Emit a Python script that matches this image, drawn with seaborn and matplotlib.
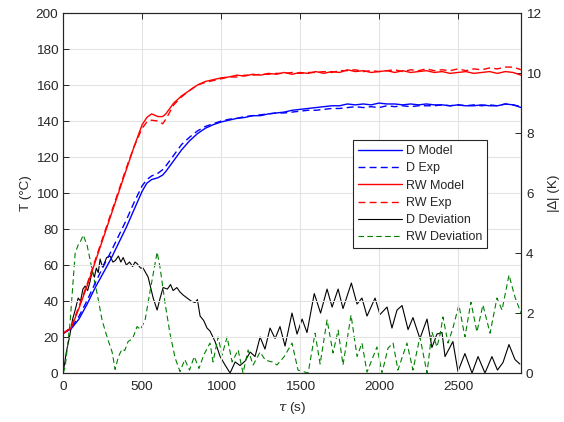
import numpy as np
import pandas as pd
import matplotlib
matplotlib.use('Agg')
import matplotlib.pyplot as plt
import seaborn as sns

# temperatures (°C)
t_temp = [0, 50, 100, 150, 200, 250, 300, 350, 400, 450, 500, 530, 560, 600, 630, 650,
          700, 750, 800, 850, 900, 950,
          1000, 1050, 1100, 1150, 1200, 1250, 1300, 1350, 1400, 1450, 1500, 1550, 1600,
          1650, 1700, 1750, 1800, 1850, 1900, 1950, 2000, 2050, 2100, 2150, 2200, 2250,
          2300, 2350, 2400, 2450, 2500, 2550, 2600, 2650, 2700, 2750, 2800, 2850, 2900]

d_model = [22, 24.5, 30, 38, 47, 55, 63, 72, 81, 91, 101, 105.5, 107.5, 108.5, 110, 112,
           118, 124, 129, 133, 136, 138,
           139.5, 140.5, 141.5, 142, 143, 143, 144, 144.5, 145, 146, 146.5, 147, 147.5,
           148, 148.5, 148.5, 149.5, 149, 149.5, 149, 150, 149.5, 149.5, 149, 149.5, 149,
           149.5, 149, 149, 148.5, 149, 148.5, 148.5, 149, 148.5, 148.5, 149.5, 149, 147.5]

d_exp = [22, 25, 31.5, 40, 49.5, 58.5, 67, 76, 85, 95, 104, 107.5, 109.5, 111, 113, 115,
         121, 127, 131, 134.5, 137, 138.5,
         140, 141, 141.5, 142.5, 143, 143.5, 144, 144.5, 144.5, 145, 145.5, 146, 146,
         146.5, 147, 147, 147.5, 148, 147.5, 148, 147.5, 148.5, 148, 148.5, 148, 148.5,
         148.5, 148.5, 149, 148.5, 149, 148.5, 149, 148.5, 149, 148.5, 149.5, 149, 148]

rw_model = [22, 25, 36, 48, 61, 74, 87, 100, 113, 126, 138, 142, 144, 142.5, 142.5, 144,
            150, 154, 157, 160, 162, 163,
            164, 164.5, 165.5, 165, 166, 165.5, 166.5, 166, 167, 166, 167, 166.5, 167.5,
            166.5, 167.5, 167, 168.5, 167.5, 168, 167, 167.5, 168, 167, 168, 167, 167.5,
            168, 167, 167.5, 166.5, 167, 167.5, 166.5, 167, 167.5, 166.5, 167.5, 167, 165.5]

rw_exp = [22, 25.5, 37, 49, 62, 75, 88, 101, 114, 126, 136, 139.5, 140.5, 140, 138.5, 141,
          149, 153.5, 157, 160, 161.5, 162.5,
          163.5, 164.5, 164.5, 165.5, 165.5, 166, 166, 166.5, 166.5, 167, 166.5, 167, 167,
          167.5, 167, 168, 168, 168.5, 167.5, 168, 167.5, 168, 168.5, 167.5, 168.5, 168,
          169, 168, 168.5, 168, 169, 168, 169, 168.5, 169.5, 169, 170, 170, 168.5]

# deviations |Δ| (K)
t_d_dev = [0, 20, 40, 60, 76, 95, 110, 125, 139, 155, 170, 184, 198, 210, 222, 234, 248,
           260, 275, 297, 315, 330, 350, 365, 380, 400, 420, 440, 455, 468, 490, 506,
           538, 570, 595, 614, 633, 660, 680, 696, 720, 740, 760, 785, 810, 835, 850, 867,
           890, 911, 930,
           962, 994, 1025, 1057, 1089, 1120, 1152, 1184, 1215, 1247, 1278, 1310, 1342, 1373,
           1405, 1449, 1481, 1513, 1544, 1590, 1630, 1671, 1703, 1741, 1772, 1825, 1861,
           1892, 1924, 1975, 2006, 2051, 2082, 2114, 2146, 2184, 2215, 2259, 2304, 2335,
           2367, 2399, 2418, 2468, 2500, 2544, 2589, 2627, 2671, 2715, 2750, 2785, 2823,
           2861, 2892]
d_dev = [0, 0.7, 1.2, 1.8, 2.1, 2.5, 2.4, 2.8, 2.9, 2.75, 3.05, 3.4, 3.2, 3.5, 3.35, 3.8,
         3.55, 3.65, 3.85, 3.9, 3.7, 3.75, 3.9, 3.7, 3.85, 3.6, 3.7, 3.55, 3.7, 3.65, 3.5,
         3.5, 3.2, 2.5, 2.1, 2.5, 2.85, 2.8, 2.95, 2.75, 2.85, 2.7, 2.6, 2.5, 2.4, 2.35,
         2.45, 1.9, 1.75, 1.5,
         1.4, 1.05, 0.55, 0.27, 0.0, 0.37, 0.25, 0.4, 0.7, 0.55, 1.2, 0.8, 1.5, 1.15, 1.55,
         0.9, 2.0, 1.3, 1.8, 1.35, 2.65, 2.0, 2.8, 2.2, 2.8, 2.15, 3.0, 2.3, 2.5, 1.9, 2.5,
         1.95, 2.2, 1.5, 2.1, 2.25, 1.45, 1.85, 1.15, 1.8, 0.85, 1.3, 1.35, 0.55, 1.05, 0.05,
         0.65, 0.0, 0.55, 0.0, 0.55, 0.1, 0.35, 0.95, 0.45, 0.3]

t_rw_dev = [0, 13, 44, 76, 95, 108, 127, 152, 184, 215, 247, 278, 310, 329, 350, 373, 390,
            411, 440, 468, 490, 519, 551, 595, 614, 646, 677, 709, 740, 770, 800, 830, 860,
            890, 930, 949, 981,
            1006, 1038, 1070, 1108, 1139, 1171, 1203, 1247, 1280, 1323, 1354, 1400, 1449,
            1487, 1551, 1595, 1627, 1671, 1709, 1741, 1772, 1823, 1861, 1892, 1924, 1987,
            2019, 2057, 2089, 2120, 2177, 2215, 2259, 2304, 2335, 2367, 2386, 2405, 2437,
            2468, 2506, 2544, 2582, 2620, 2658, 2703, 2747, 2779, 2823, 2861, 2899]
rw_dev = [0, 0.2, 1.7, 4.0, 4.27, 4.37, 4.6, 4.25, 3.43, 2.65, 1.75, 1.2, 0.7, 0.12, 0.55,
          0.8, 0.75, 1.05, 1.15, 1.55, 1.45, 1.77, 2.75, 4.03, 3.5, 2.3, 1.3, 0.5, 0.05, 0.45,
          0.1, 0.55, 0.15, 0.6,
          1.0, 0.37, 1.2, 0.6, 1.2, 0.37, 0.77, 0.0, 0.77, 0.27, 0.7, 0.43, 0.37, 0.27, 0.55,
          1.0, 0.1, 0.0, 1.33, 0.3, 1.77, 0.67, 1.43, 0.27, 1.93, 0.55, 1.0, 0.03, 0.87, 0.0,
          0.83, 1.0, 0.1, 1.0, 0.1, 1.2, 0.0, 1.37, 0.87, 1.27, 1.87, 1.0, 1.5, 2.27, 1.2,
          2.37, 1.37, 2.27, 1.33, 2.5, 2.1, 3.27, 2.53, 2.0]

temp = pd.DataFrame({'t': t_temp, 'D Model': d_model, 'D Exp': d_exp,
                     'RW Model': rw_model, 'RW Exp': rw_exp})
ddev = pd.DataFrame({'t': t_d_dev, 'dev': d_dev})
rwdev = pd.DataFrame({'t': t_rw_dev, 'dev': rw_dev})

sns.set_style('white')
plt.rcParams['font.family'] = ['Liberation Sans', 'DejaVu Sans']
plt.rcParams['mathtext.fontset'] = 'dejavuserif'
axc = '#262626'

fig = plt.figure(figsize=(5.64, 4.22), dpi=100)
ax = fig.add_axes([0.112, 0.116, 0.812, 0.853])
ax2 = ax.twinx()

green = '#008000'
sns.lineplot(data=ddev, x='t', y='dev', ax=ax2, color='black', lw=0.8,
             estimator=None, sort=False, label='D Deviation', legend=False)
sns.lineplot(data=rwdev, x='t', y='dev', ax=ax2, color=green, lw=0.8, dashes=False,
             estimator=None, sort=False, label='RW Deviation', legend=False)
ax2.lines[-1].set_linestyle((0, (5, 3)))

ax.set_zorder(ax2.get_zorder() + 1)
ax.patch.set_visible(False)

specs = [('D Model', 'blue', '-'), ('D Exp', 'blue', (0, (5, 3))),
         ('RW Model', 'red', '-'), ('RW Exp', 'red', (0, (5, 3)))]
for name, col, ls in specs:
    sns.lineplot(data=temp, x='t', y=name, ax=ax, color=col, lw=1.0,
                 estimator=None, sort=False, label=name, legend=False)
    ax.lines[-1].set_linestyle(ls)

ax.set_xlim(0, 2900)
ax.set_ylim(0, 200)
ax2.set_ylim(0, 12)
ax.set_xticks(range(0, 2501, 500))
ax.set_yticks(range(0, 201, 20))
ax2.set_yticks(range(0, 13, 2))
ax.grid(True, color='#e3e3e3', lw=0.8)
ax.set_axisbelow(True)

fs = 9.7
ax.set_xlabel(r'$\tau$ (s)', fontsize=fs, color=axc, labelpad=5)
ax.set_ylabel('T (°C)', fontsize=fs, color=axc, labelpad=3)
ax2.set_ylabel('|∆| (K)', fontsize=fs, color=axc, labelpad=5)
ax.tick_params(axis='both', direction='in', length=4, width=0.7, colors=axc,
               labelsize=fs, top=True, right=False)
ax.tick_params(axis='x', pad=6)
ax2.tick_params(axis='y', direction='in', length=4, width=0.7, colors=axc,
                labelsize=fs)
for a in (ax, ax2):
    for s in a.spines.values():
        s.set_color(axc)
        s.set_linewidth(0.8)

h1, l1 = ax.get_legend_handles_labels()
h2, l2 = ax2.get_legend_handles_labels()
leg = ax.legend(h1 + h2, l1 + l2, loc='upper left', bbox_to_anchor=(0.633, 0.647),
                fontsize=9, frameon=True, fancybox=False, framealpha=1,
                edgecolor=axc, borderpad=0.4, labelspacing=0.42, handlelength=3.5,
                handletextpad=0.3, borderaxespad=0)
leg.get_frame().set_linewidth(0.8)

fig.savefig('out.png', dpi=100)
